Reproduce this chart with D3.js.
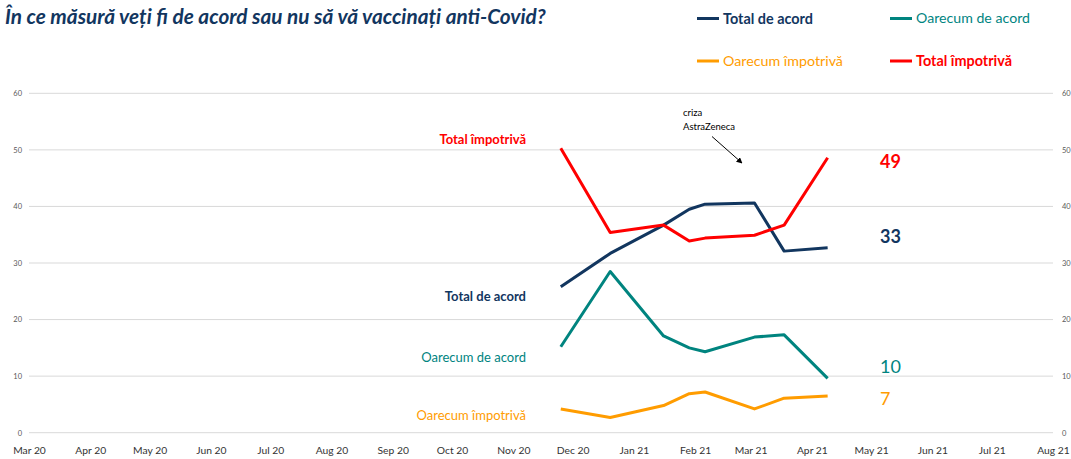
<!DOCTYPE html>
<html>
<head>
<meta charset="utf-8">
<script src="https://cdn.jsdelivr.net/npm/d3@7"></script>
<style>
  html, body { margin: 0; padding: 0; background: #fff; }
  svg { display: block; font-family: Lato, "Open Sans", sans-serif; }
</style>
</head>
<body>
<svg id="chart" width="1071" height="459"></svg>
<script>
// Survey dates (waves)
const dates = ["2020-11-25", "2020-12-20", "2021-01-16", "2021-01-29", "2021-02-06", "2021-03-03", "2021-03-18", "2021-04-09"];

// Series values, %
const totalAcord      = [25.8, 31.7, 36.7, 39.5, 40.4, 40.6, 32.1, 32.7];
const oarecumAcord    = [15.2, 28.5, 17.1, 15.0, 14.3, 16.9, 17.3, 9.6];
const oarecumImpotriva = [4.2, 2.7, 4.8, 6.9, 7.2, 4.2, 6.1, 6.5];
const totalImpotriva  = [50.3, 35.4, 36.7, 33.9, 34.4, 34.9, 36.7, 48.6];

const seriesNames = ["Total de acord", "Oarecum de acord", "Oarecum împotrivă", "Total împotrivă"];
const seriesValues = [totalAcord, oarecumAcord, oarecumImpotriva, totalImpotriva];
const seriesColors = ["#12365f", "#00847f", "#ff9c00", "#ff0000"];
const seriesBold = [true, false, false, true];

const yTicks = [0, 10, 20, 30, 40, 50, 60];
const xStart = "2020-03-01", xEnd = "2021-08-01";

const title = "În ce măsură veți fi de acord sau nu să vă vaccinați anti-Covid?";
const noteLines = ["criza", "AstraZeneca"];

const svg = d3.select("#chart");
const parse = d3.utcParse("%Y-%m-%d");

const x = d3.scaleUtc().domain([parse(xStart), parse(xEnd)]).range([29, 1053]);
const y = d3.scaleLinear().domain([0, 60]).range([432.7, 93.3]);

// shrink/grow a text to a given width
function fit(sel, w) {
  const node = sel.node();
  const fs = parseFloat(sel.attr("font-size"));
  const len = node.getComputedTextLength();
  sel.attr("font-size", (fs * w / len).toFixed(2));
}

// Title
const t = svg.append("text")
  .attr("x", 5).attr("y", 24)
  .attr("font-size", 18).attr("font-weight", "bold").attr("font-style", "italic")
  .attr("fill", "#12365f")
  .text(title);
fit(t, 541);

// Gridlines
svg.append("g").selectAll("line").data(yTicks).join("line")
  .attr("x1", x.range()[0]).attr("x2", x.range()[1])
  .attr("y1", d => y(d)).attr("y2", d => y(d))
  .attr("stroke", "#d9d9d9").attr("stroke-width", 1);

// Left and right value axes
const yLeft = svg.append("g").attr("transform", `translate(${x.range()[0]},0)`)
  .call(d3.axisLeft(y).tickValues(yTicks).tickSize(0).tickPadding(7));
const yRight = svg.append("g").attr("transform", `translate(${x.range()[1]},0)`)
  .call(d3.axisRight(y).tickValues(yTicks).tickSize(0).tickPadding(9));
[yLeft, yRight].forEach(g => {
  g.select(".domain").remove();
  g.selectAll("text").attr("font-size", 7.5).attr("fill", "#595959").attr("font-family", "Lato, sans-serif");
});

// Month axis
const months = d3.utcMonth.range(parse(xStart), d3.utcDay.offset(parse(xEnd), 1));
const xAxis = svg.append("g").attr("transform", `translate(0,${y(0)})`)
  .call(d3.axisBottom(x).tickValues(months).tickFormat(d3.utcFormat("%b %y")).tickSize(0).tickPadding(14));
xAxis.select(".domain").remove();
xAxis.selectAll("text").attr("font-size", 10.3).attr("fill", "#333").attr("font-family", "Lato, sans-serif");

// Lines
const line = d3.line().x((d, i) => x(parse(dates[i]))).y(d => y(d));
svg.append("g").selectAll("path").data(seriesValues).join("path")
  .attr("d", d => line(d))
  .attr("fill", "none")
  .attr("stroke", (d, i) => seriesColors[i])
  .attr("stroke-width", 3)
  .attr("stroke-linejoin", "round");

// Series names at the left of the lines
const leftLabelY = [296.7, 357, 415.7, 139];
seriesNames.forEach((n, i) => {
  svg.append("text")
    .attr("x", 526).attr("y", leftLabelY[i]).attr("dy", "0.35em")
    .attr("text-anchor", "end")
    .attr("font-size", 13).attr("font-weight", seriesBold[i] ? "bold" : "normal")
    .attr("fill", seriesColors[i])
    .text(n);
});

// Latest values at the right of the lines
const endLabelY = [237, 367, 399, 162];
seriesValues.forEach((v, i) => {
  svg.append("text")
    .attr("x", 880).attr("y", endLabelY[i]).attr("dy", "0.35em")
    .attr("font-size", 18).attr("font-weight", seriesBold[i] ? "bold" : "normal")
    .attr("fill", seriesColors[i])
    .text(Math.round(v[v.length - 1]));
});

// Legend
const legendPos = [[697, 18.5], [890, 18.5], [697, 61], [890, 61]];
const legendW = [90, 114, 120, 96];
seriesNames.forEach((n, i) => {
  const [lx, ly] = legendPos[i];
  svg.append("line").attr("x1", lx).attr("x2", lx + 22).attr("y1", ly).attr("y2", ly)
    .attr("stroke", seriesColors[i]).attr("stroke-width", 3);
  const lt = svg.append("text")
    .attr("x", lx + 26).attr("y", ly).attr("dy", "0.35em")
    .attr("font-size", 14).attr("font-weight", seriesBold[i] ? "bold" : "normal")
    .attr("fill", seriesColors[i])
    .text(n);
  fit(lt, legendW[i]);
});

// Annotation
svg.append("defs").append("marker")
  .attr("id", "arrow").attr("viewBox", "0 0 10 10").attr("refX", 9).attr("refY", 5)
  .attr("markerWidth", 6).attr("markerHeight", 6).attr("orient", "auto")
  .append("path").attr("d", "M0,0 L10,5 L0,10 z").attr("fill", "#000");
svg.append("g").selectAll("text").data(noteLines).join("text")
  .attr("x", 683).attr("y", (d, i) => 116 + i * 14)
  .attr("font-size", 9.5).attr("fill", "#000")
  .text(d => d);
svg.append("line")
  .attr("x1", 712).attr("y1", 136.5).attr("x2", 742).attr("y2", 163)
  .attr("stroke", "#000").attr("stroke-width", 1)
  .attr("marker-end", "url(#arrow)");
</script>
</body>
</html>
